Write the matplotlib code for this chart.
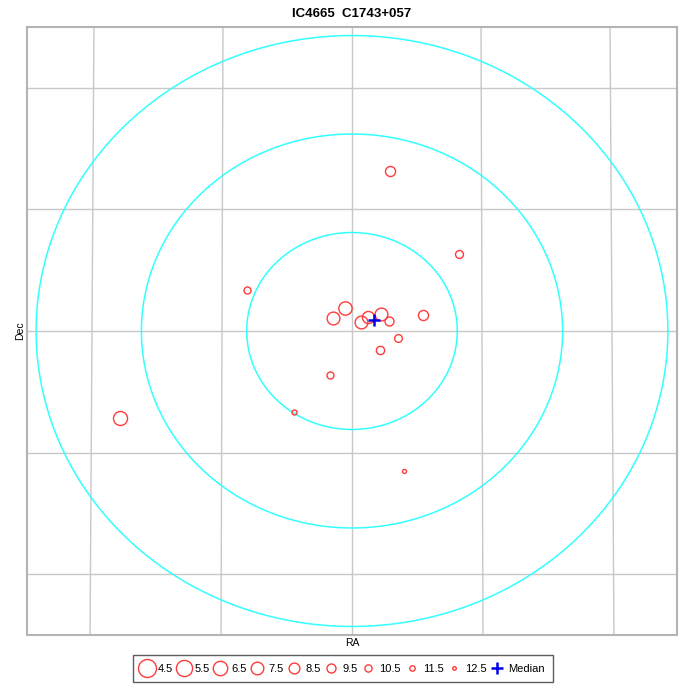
import matplotlib
matplotlib.use('Agg')
import matplotlib.pyplot as plt
from matplotlib.lines import Line2D
import numpy as np

plt.rcParams['font.family'] = ['Liberation Sans', 'DejaVu Sans']

TITLE = 'IC4665  C1743+057'

# star offsets from cluster centre (grid units) and magnitudes
dx = [0.293, 0.826, -0.811, -0.054, -0.147, 0.069, 0.124, 0.224,
      0.286, 0.548, 0.355, 0.216, -0.170, -1.784, -0.448, 0.402]
dy = [1.317, 0.634, 0.337, 0.189, 0.107, 0.074, 0.115, 0.140,
      0.082, 0.132, -0.058, -0.156, -0.362, -0.716, -0.667, -1.152]
mag = [8.9, 10.1, 10.6, 7.1, 7.4, 7.4, 7.8, 7.4,
       9.5, 8.9, 10.2, 9.9, 10.6, 6.7, 11.7, 12.3]

median_x = 0.170
median_y = 0.091

radii = [0.81, 1.62, 2.43]
grid_pos = [-2, -1, 0, 1, 2]
legend_mags = [4.5, 5.5, 6.5, 7.5, 8.5, 9.5, 10.5, 11.5, 12.5]

RED = '#ff3b3b'
CYAN = '#33ffff'
GRID = '#c8c8c8'


def msize(m):
    # marker diameter in points for a magnitude
    d_px = 18 - 1.8 * (m - 4.5)
    return d_px * 0.72


fig = plt.figure(figsize=(6.86, 6.84), dpi=100)
ax = fig.add_axes([27 / 686, (684 - 635) / 684, 650 / 686, 608 / 684])
ax.set_xlim(-2.5, 2.5)
ax.set_ylim(-2.5, 2.5)

# RA / Dec grid, RA lines converge a little to the north
yy = np.array([-2.5, 2.5])
for g in grid_pos:
    ax.plot(g * (1 - 0.003 * yy), yy, color=GRID, lw=1, zorder=1)
    ax.axhline(g, color=GRID, lw=1, zorder=1)

t = np.linspace(0, 2 * np.pi, 400)
for r in radii:
    ax.plot(r * np.cos(t), r * np.sin(t), color=CYAN, lw=1.1, zorder=2)

for x, y, m in zip(dx, dy, mag):
    ax.plot(x, y, 'o', ms=msize(m), mfc='none', mec=RED, mew=1.0, zorder=3)

ax.plot(median_x, median_y, '+', color='#0000ee', ms=8, mew=1.8, zorder=4)

ax.set_xticks([])
ax.set_yticks([])
for s in ax.spines.values():
    s.set_color('#b4b4b4')
    s.set_linewidth(1.5)

ax.set_title(TITLE, fontsize=9.5, fontweight='bold', pad=7)
ax.set_xlabel('RA', fontsize=7.5, labelpad=2)
ax.set_ylabel('Dec', fontsize=7.5, labelpad=1)

handles = [Line2D([], [], ls='none', marker='o', ms=msize(m), mfc='none',
                  mec=RED, mew=1.0) for m in legend_mags]
handles.append(Line2D([], [], ls='none', marker='+', color='#0000ee',
                      ms=9, mew=1.8))
labels = ['%.1f' % m for m in legend_mags] + ['Median']
leg = fig.legend(handles, labels, loc='lower center', ncol=10,
                 bbox_to_anchor=(0.5, 0.0), fontsize=8, frameon=True,
                 fancybox=False, edgecolor='#333333', handlelength=1.0,
                 handleheight=0.9, handletextpad=0.5, columnspacing=0.45,
                 borderpad=0.75, borderaxespad=0.15)
leg.get_frame().set_linewidth(1.0)

fig.savefig('out.png', dpi=100)
